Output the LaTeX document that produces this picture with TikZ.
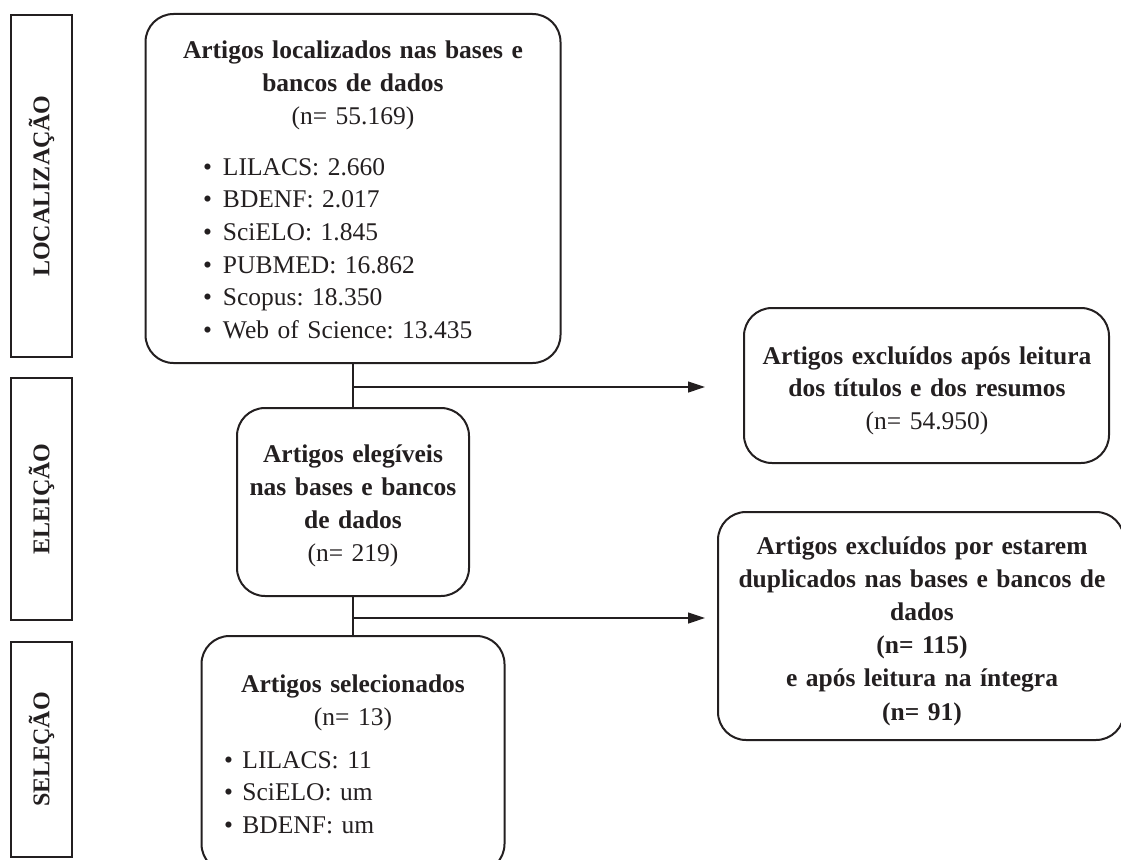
\documentclass[tikz,border=0pt]{standalone}
\usepackage{fontspec}
\setmainfont{Liberation Serif}
\usetikzlibrary{arrows.meta}
\definecolor{ink}{RGB}{35,31,32}
\newcommand\bulitem[1]{\makebox[#1][l]{\textbullet}}
\frenchspacing
\begin{document}
\begin{tikzpicture}[x=1pt,y=-1pt,
  every node/.style={inner sep=0pt, outer sep=0pt, text=ink},
  stagebox/.style={draw=ink, line width=2pt, rounded corners=28pt},
  phasebox/.style={draw=ink, line width=1.8pt, rotate=90, font=\fontsize{24}{28}\selectfont\bfseries},
  ttl/.style={anchor=base, align=center, text width=#1, font=\fontsize{25.5}{33}\selectfont\bfseries},
  lst/.style={anchor=base west, align=left, text width=300pt, font=\fontsize{25.5}{32.7}\selectfont},
  conn/.style={draw=ink, line width=1.2pt},
  tip/.style={-{Triangle[length=17pt,width=11pt]}}
]
\path[use as bounding box] (0,0) rectangle (1121,859);
\clip (0,0) rectangle (1121,859);

% phase labels
\node[phasebox, minimum width=342pt, minimum height=61pt] (ph1) at (41.5,186) {LOCALIZAÇÃO};
\node[phasebox, minimum width=242pt, minimum height=61pt] (ph2) at (41.5,499) {ELEIÇÃO};
\node[phasebox, minimum width=215pt, minimum height=61pt] (ph3) at (41.5,749.5) {SELEÇÃO};

% boxes
\node[stagebox, minimum width=415pt, minimum height=349pt] (loc) at (353,188.5) {};
\node[stagebox, minimum width=232pt, minimum height=188pt] (elig) at (353,502) {};
\node[stagebox, minimum width=303pt, minimum height=236pt] (sel) at (353,754) {};
\node[stagebox, minimum width=365pt, minimum height=155pt] (ex1) at (926.5,385.5) {};
\node[stagebox, minimum width=406pt, minimum height=228pt] (ex2) at (921,626) {};

% texts
\node[ttl=400pt] (loct) at (353,59) {Artigos localizados nas bases e\\bancos de dados\\\mdseries(n= 55.169)};
\node[lst] (locl) at (203,175) {\bulitem{20pt}LILACS: 2.660\\\bulitem{20pt}BDENF: 2.017\\\bulitem{20pt}SciELO: 1.845\\\bulitem{20pt}PUBMED: 16.862\\\bulitem{20pt}Scopus: 18.350\\\bulitem{20pt}Web of Science: 13.435};

\node[ttl=220pt, font=\fontsize{25.5}{33.3}\selectfont\bfseries] (eligt) at (353,462) {Artigos elegíveis\\nas bases e bancos\\de dados\\\mdseries(n= 219)};

\node[ttl=290pt, font=\fontsize{25.5}{33}\selectfont\bfseries] (selt) at (353,692) {Artigos selecionados\\\mdseries(n= 13)};
\node[lst] (sell) at (224,768) {\bulitem{18.5pt}LILACS: 11\\\bulitem{18.5pt}SciELO: um\\\bulitem{18.5pt}BDENF: um};

\node[ttl=360pt, font=\fontsize{25.5}{32.7}\selectfont\bfseries] (ex1t) at (927,364) {Artigos excluídos após leitura\\dos títulos e dos resumos\\\mdseries(n= 54.950)};

\node[ttl=400pt, font=\fontsize{25.5}{33.2}\selectfont\bfseries] (ex2t) at (922,554) {Artigos excluídos por estarem\\duplicados nas bases e bancos de\\dados\\(n= 115)\\e após leitura na íntegra\\(n= 91)};

% connectors
\draw[conn] (loc) -- (elig);
\draw[conn] (elig) -- (sel);
\coordinate (j1) at (353,387);
\coordinate (t1) at (705,387);
\coordinate (j2) at (353,618);
\coordinate (t2) at (705,618);
\draw[conn, tip] (j1) -- (t1);
\draw[conn, tip] (j2) -- (t2);
\end{tikzpicture}
\end{document}
